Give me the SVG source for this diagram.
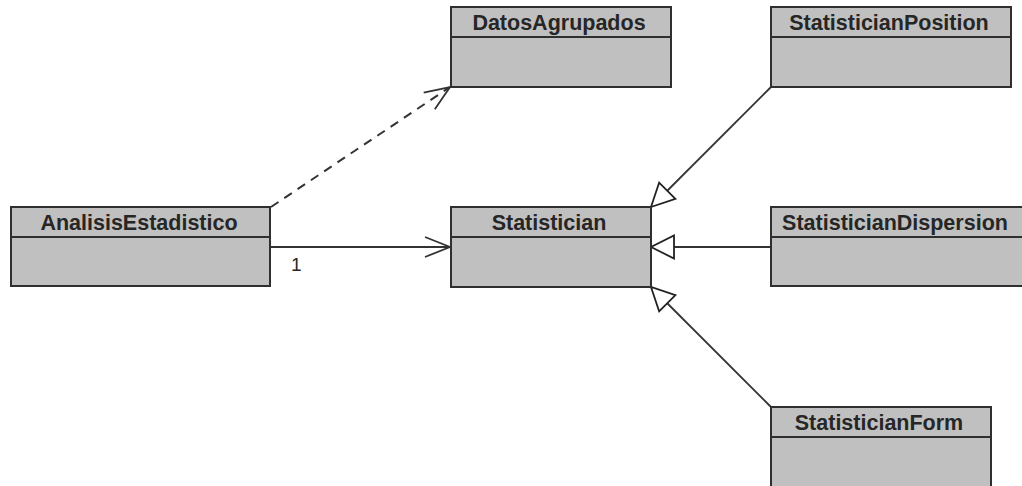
<svg xmlns="http://www.w3.org/2000/svg" width="1022" height="486" viewBox="0 0 1022 486">
<style>
.box{fill:#c0c0c0;stroke:#2f2f2f;stroke-width:2}
.sep{stroke:#2f2f2f;stroke-width:2}
.title{font-family:"Liberation Sans",Arial,sans-serif;font-weight:bold;font-size:21.5px;fill:#262626;text-anchor:middle}
.edge{stroke:#333;stroke-width:1.8;fill:none}
.dash{stroke-dasharray:9,7;stroke-width:2}
.lbl{font-family:"Liberation Sans",Arial,sans-serif;font-size:19px;fill:#262626}
</style>
<defs>
<marker id="open" markerUnits="userSpaceOnUse" markerWidth="30" markerHeight="26" refX="27" refY="12" orient="auto" overflow="visible">
<path d="M2 2 L27 12 L2 22" fill="none" stroke="#333" stroke-width="1.8"/>
</marker>
<marker id="tri" markerUnits="userSpaceOnUse" markerWidth="30" markerHeight="30" refX="25" refY="13" orient="auto" overflow="visible">
<path d="M25 13 L2 1.5 L2 24.5 Z" fill="#fff" stroke="#222" stroke-width="1.8"/>
</marker>
</defs>
<rect width="1022" height="486" fill="#fff"/>
<g id="connectors">
<line class="edge dash" x1="271" y1="207" x2="450" y2="87" marker-end="url(#open)"/>
<line class="edge" x1="271" y1="247" x2="450" y2="247" marker-end="url(#open)"/>
<text class="lbl" x="291" y="271">1</text>
<line class="edge" x1="771" y1="87" x2="651" y2="207" marker-end="url(#tri)"/>
<line class="edge" x1="771" y1="247" x2="651" y2="247" marker-end="url(#tri)"/>
<line class="edge" x1="771" y1="407" x2="651" y2="287" marker-end="url(#tri)"/>
</g>
<g id="DatosAgrupados">
<rect class="box" x="451" y="7" width="220" height="80"/>
<line class="sep" x1="451" y1="37" x2="671" y2="37"/>
<text class="title" x="559" y="30">DatosAgrupados</text>
</g>
<g id="StatisticianPosition">
<rect class="box" x="771" y="7" width="240" height="80"/>
<line class="sep" x1="771" y1="37" x2="1011" y2="37"/>
<text class="title" x="889" y="30">StatisticianPosition</text>
</g>
<g id="AnalisisEstadistico">
<rect class="box" x="11" y="207" width="259" height="79"/>
<line class="sep" x1="11" y1="237" x2="270" y2="237"/>
<text class="title" x="139" y="230">AnalisisEstadistico</text>
</g>
<g id="Statistician">
<rect class="box" x="451" y="207" width="200" height="80"/>
<line class="sep" x1="451" y1="237" x2="651" y2="237"/>
<text class="title" x="549" y="230">Statistician</text>
</g>
<g id="StatisticianDispersion">
<rect class="box" x="771" y="207" width="256" height="79"/>
<line class="sep" x1="771" y1="237" x2="1027" y2="237"/>
<text class="title" x="895" y="230">StatisticianDispersion</text>
</g>
<g id="StatisticianForm">
<rect class="box" x="771" y="407" width="220" height="90"/>
<line class="sep" x1="771" y1="437" x2="991" y2="437"/>
<text class="title" x="879" y="430">StatisticianForm</text>
</g>
</svg>
